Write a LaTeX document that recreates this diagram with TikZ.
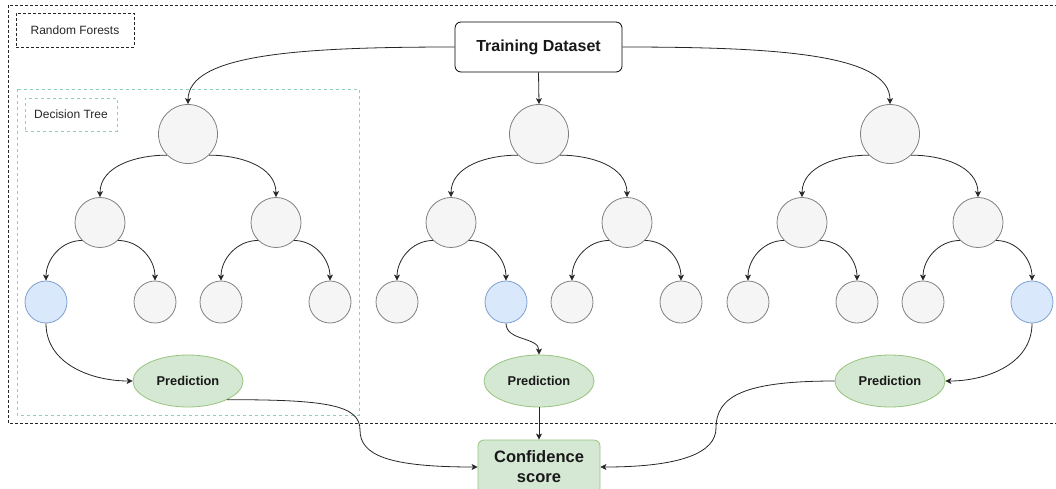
\documentclass[tikz,border=0pt]{standalone}
\usepackage{fontspec}
\setmainfont{Liberation Sans}
\usetikzlibrary{arrows.meta,shapes.geometric}
\definecolor{nodegray}{HTML}{F5F5F5}
\definecolor{nodestroke}{HTML}{808080}
\definecolor{bluefill}{HTML}{DAE8FC}
\definecolor{bluestroke}{HTML}{7EA0CF}
\definecolor{greenfill}{HTML}{D5E8D4}
\definecolor{greenstroke}{HTML}{97C47E}
\definecolor{dtteal}{HTML}{8FCDBE}
\definecolor{edgecol}{HTML}{262626}
\begin{document}
\begin{tikzpicture}[x=1pt,y=1pt,
  circ/.style={circle, draw=nodestroke, fill=nodegray, inner sep=0pt, line width=0.8pt},
  rootn/.style={circ, minimum size=59pt},
  midn/.style={circ, minimum size=50pt},
  leafn/.style={circ, minimum size=42pt},
  pred/.style={ellipse, draw=greenstroke, fill=greenfill, line width=0.8pt, minimum width=110pt, minimum height=52pt, inner sep=0pt, font=\fontsize{12.8}{15}\selectfont\bfseries, text=black!90},
  edge/.style={draw=edgecol, line width=0.8pt, -{Stealth[length=6pt,width=6pt,inset=1.5pt]}},
  plain/.style={draw=edgecol, line width=0.8pt},
  outerdash/.style={draw=black!85, line width=0.8pt, dash pattern=on 3pt off 2pt},
  tealdash/.style={draw=dtteal, line width=0.8pt, dash pattern=on 3pt off 3pt},
  lbl/.style={font=\fontsize{12}{14}\selectfont, text=black!85, inner sep=0pt},
]
\useasboundingbox (0,0) rectangle (1056,-488);
\clip (0,0) rectangle (1056,-488);

% frames
\draw[outerdash] (8,-5) rectangle (1075,-423);
\node[lbl, outerdash, minimum width=118pt, minimum height=34pt] (rflabel) at (75,-30) {Random Forests};
\draw[tealdash] (17,-89) rectangle (359,-415);
\node[lbl, tealdash, minimum width=92pt, minimum height=33pt] (dtlabel) at (71,-114.5) {Decision Tree};

% training dataset
\node[draw=black, fill=white, line width=0.8pt, rounded corners=6pt, minimum width=167pt, minimum height=50pt, inner sep=0pt, font=\fontsize{16}{19}\selectfont\bfseries, text=black!90] (td) at (538.5,-47) {Training Dataset};

% trees
\foreach \t/\cx/\hl in {1/188/1, 2/539/2, 3/890/4} {
  \node[rootn] (r\t) at (\cx,-134) {};
  \node[midn] (a\t) at (\cx-88,-222.5) {};
  \node[midn] (b\t) at (\cx+88,-222.5) {};
  \foreach \k/\dx in {1/-142, 2/-33, 3/33, 4/142} {
    \ifnum\k=\hl \def\lf{bluefill}\def\ld{bluestroke}\else\def\lf{nodegray}\def\ld{nodestroke}\fi
    \node[leafn, fill=\lf, draw=\ld] (l\t\k) at (\cx+\dx,-302) {};
  }
  \draw[edge] (r\t.south west) to[out=180,in=90] (a\t.north);
  \draw[edge] (r\t.south east) to[out=0,in=90] (b\t.north);
  \draw[edge] (a\t.south west) to[out=180,in=90] (l\t1.north);
  \draw[edge] (a\t.south east) to[out=0,in=90] (l\t2.north);
  \draw[edge] (b\t.south west) to[out=180,in=90] (l\t3.north);
  \draw[edge] (b\t.south east) to[out=0,in=90] (l\t4.north);
  \node[pred] (p\t) at (\cx,-381) {Prediction};
}

% confidence score
\node[draw=greenstroke, fill=greenfill, line width=0.8pt, rounded corners=6pt, minimum width=122pt, minimum height=54pt, inner sep=0pt, align=center, font=\fontsize{16.5}{20}\selectfont\bfseries, text=black!90] (cs) at (539,-467) {Confidence\\score};

% top connectors
\draw[edge] (td.west) .. controls +(-155,0) and +(0,50) .. (r1.north);
\draw[edge] (td.east) .. controls +(155,0) and +(0,50) .. (r3.north);
\draw[edge] (td.south) -- (r2.north);

% leaves to predictions
\draw[edge] (l11.south) to[out=-90,in=180] (p1.west);
\draw[edge] (l22.south) to[out=-90,in=90] (p2.north);
\draw[edge] (l34.south) to[out=-90,in=0] (p3.east);

% predictions to confidence
\coordinate (m1) at (360,-430);
\coordinate (m3) at (716,-428);
\draw[plain] (p1.south east) .. controls +(100,0) and +(0,25) .. (m1);
\draw[edge] (m1) .. controls +(0,-25) and +(-90,0) .. (cs.west);
\draw[edge] (p2.south) -- (cs.north);
\draw[plain] (p3.west) .. controls +(-90,0) and +(0,32) .. (m3);
\draw[edge] (m3) .. controls +(0,-25) and +(80,0) .. (cs.east);
\end{tikzpicture}
\end{document}
